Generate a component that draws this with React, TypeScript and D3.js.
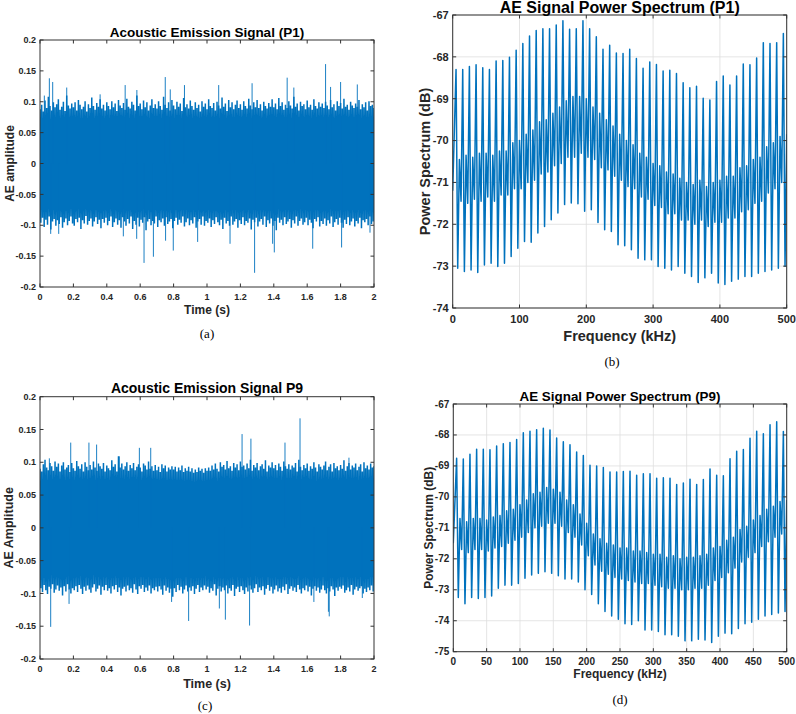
import React, { useRef, useEffect } from 'react';
import * as d3 from 'd3';

const W = 796;
const H = 714;
const BLUE = '#0072bd';
const AXIS = '#333333';
const GRID = '#dedede';
const SANS = '"Liberation Sans", Arial, Helvetica, sans-serif';
const SERIF = '"Liberation Serif", "Times New Roman", serif';

// AE records: upper / lower envelope every 10 ms from 0 to 2 s, in units of 1e-3
const STEP = 0.01;
const upperP1 = [
  88, 95, 84, 102, 90, 108, 93, 86, 99, 91,
  96, 104, 87, 92, 100, 85, 110, 94, 89, 97,
  91, 99, 86, 103, 95, 88, 92, 101, 84, 96,
  90, 107, 93, 87, 98, 92, 104, 89, 95, 86,
  99, 93, 88, 101, 91, 97, 85, 103, 94, 90,
  98, 87, 105, 92, 89, 100, 95, 86, 110, 93,
  97, 88, 102, 91, 99, 86, 94, 104, 90, 96,
  89, 101, 93, 87, 108, 95, 90, 99, 86, 103,
  94, 88, 100, 92, 97, 85, 106, 91, 96, 89,
  102, 93, 87, 99, 90, 95, 84, 101, 92, 97,
  88, 104, 93, 90, 98, 86, 100, 94, 89, 107,
  92, 97, 85, 103, 91, 99, 88, 95, 102, 90,
  96, 87, 101, 93, 89, 105, 94, 88, 99, 91,
  103, 90, 96, 86, 100, 93, 89, 98, 92, 104,
  91, 97, 88, 106, 93, 99, 87, 95, 90, 101,
  94, 89, 108, 92, 97, 86, 100, 93, 96, 88,
  102, 91, 95, 87, 104, 93, 89, 99, 92, 97,
  90, 100, 94, 88, 103, 91, 96, 86, 101, 93,
  98, 89, 105, 92, 95, 87, 100, 94, 90, 97,
  92, 103, 88, 96, 91, 99, 86, 101, 93, 95,
  90,
];
const lowerP1 = [
  -96, -88, -103, -91, -99, -86, -107, -94, -90, -101,
  -92, -98, -87, -104, -95, -89, -100, -93, -86, -97,
  -101, -90, -95, -88, -106, -92, -97, -85, -99, -93,
  -89, -102, -94, -87, -98, -91, -105, -90, -96, -88,
  -100, -93, -86, -103, -95, -89, -99, -92, -104, -87,
  -94, -101, -90, -97, -86, -106, -93, -99, -88, -102,
  -91, -96, -87, -108, -94, -90, -100, -93, -97, -86,
  -103, -92, -95, -89, -101, -87, -98, -94, -90, -105,
  -93, -88, -99, -91, -96, -86, -102, -95, -89, -100,
  -92, -97, -87, -104, -94, -90, -99, -86, -101, -93,
  -96, -89, -103, -92, -98, -87, -95, -100, -91, -106,
  -88, -97, -93, -101, -86, -99, -94, -90, -104, -92,
  -98, -87, -100, -93, -96, -89, -107, -91, -95, -88,
  -102, -94, -90, -99, -86, -103, -92, -97, -89, -101,
  -93, -108, -88, -96, -91, -100, -87, -98, -94, -90,
  -104, -92, -97, -86, -101, -93, -89, -99, -95, -88,
  -100, -91, -96, -105, -90, -94, -87, -102, -93, -98,
  -89, -101, -92, -97, -86, -103, -95, -90, -99, -88,
  -96, -104, -91, -98, -87, -100, -94, -89, -102, -93,
  -97, -88, -105, -92, -95, -90, -100, -86, -98, -94,
  -92,
];
const upperP9 = [
  90, 86, 97, 104, 92, 88, 99, 94, 87, 101,
  93, 98, 86, 95, 100, 89, 92, 96, 85, 99,
  91, 87, 102, 94, 90, 97, 86, 100, 93, 88,
  96, 89, 101, 92, 87, 98, 94, 90, 99, 86,
  95, 91, 88, 103, 93, 97, 86, 109, 92, 98,
  89, 94, 100, 87, 96, 91, 99, 88, 93, 97,
  92, 86, 98, 95, 89, 101, 90, 94, 87, 96,
  88, 93, 85, 97, 91, 95, 86, 92, 89, 94,
  89, 93, 86, 92, 88, 95, 85, 91, 87, 93,
  86, 91, 84, 89, 85, 92, 87, 90, 84, 91,
  87, 92, 87, 95, 89, 98, 90, 86, 100, 93,
  96, 89, 102, 91, 94, 87, 99, 92, 97, 88,
  101, 93, 95, 89, 98, 91, 104, 87, 96, 92,
  99, 88, 94, 97, 90, 103, 86, 95, 92, 100,
  91, 96, 88, 98, 93, 87, 101, 94, 90, 97,
  89, 95, 92, 99, 86, 104, 93, 88, 96, 91,
  98, 87, 94, 90, 100, 92, 86, 97, 93, 89,
  95, 101, 88, 93, 97, 86, 99, 91, 94, 88,
  96, 90, 103, 87, 94, 99, 89, 95, 92, 98,
  88, 93, 97, 86, 100, 91, 95, 89, 98, 92,
  94,
];
const lowerP9 = [
  -92, -98, -87, -95, -101, -90, -93, -86, -99, -94,
  -88, -96, -91, -103, -89, -97, -86, -94, -100, -92,
  -95, -89, -98, -87, -93, -101, -90, -96, -88, -94,
  -99, -91, -86, -97, -93, -88, -102, -90, -95, -87,
  -96, -92, -100, -89, -94, -87, -98, -91, -103, -93,
  -90, -97, -88, -95, -92, -99, -86, -94, -101, -89,
  -93, -87, -98, -91, -96, -88, -100, -92, -95, -90,
  -97, -89, -94, -102, -88, -96, -91, -99, -93, -105,
  -92, -98, -87, -95, -90, -100, -94, -88, -97, -91,
  -96, -89, -101, -93, -87, -98, -91, -95, -88, -94,
  -90, -99, -92, -96, -86, -103, -93, -89, -97, -91,
  -95, -88, -100, -92, -96, -87, -104, -93, -90, -98,
  -89, -95, -101, -91, -97, -88, -94, -99, -92, -86,
  -98, -91, -95, -89, -102, -93, -87, -96, -90, -100,
  -94, -88, -97, -92, -99, -90, -95, -86, -101, -93,
  -89, -96, -91, -98, -87, -94, -100, -92, -95, -88,
  -97, -90, -103, -93, -89, -96, -91, -99, -94, -88,
  -95, -100, -92, -97, -89, -94, -104, -91, -96, -90,
  -93, -88, -99, -95, -91, -97, -87, -102, -94, -90,
  -96, -92, -89, -100, -93, -98, -91, -95, -88, -97,
  -93,
];

// isolated bursts [time s, amplitude]
const spikesP1: [number, number][] = [
  [0.026, 0.11], [0.056, 0.138], [0.076, 0.132], [0.16, 0.123], [0.36, 0.112],
  [0.51, 0.127], [0.58, 0.119], [0.75, 0.14], [0.78, 0.12], [0.865, 0.127],
  [1.07, 0.127], [1.27, 0.13], [1.48, 0.139], [1.52, 0.123], [1.71, 0.161],
  [1.74, 0.124], [1.8, 0.132], [1.9, 0.128],
  [0.064, -0.114], [0.112, -0.114], [0.499, -0.118], [0.579, -0.122], [0.623, -0.161],
  [0.679, -0.151], [0.752, -0.125], [0.798, -0.141], [0.944, -0.127], [1.138, -0.13],
  [1.285, -0.177], [1.393, -0.13], [1.403, -0.144], [1.633, -0.138], [1.806, -0.136],
  [1.976, -0.112],
];
const spikesP9: [number, number][] = [
  [0.056, 0.106], [0.184, 0.13], [0.293, 0.13], [0.339, 0.127], [0.475, 0.109],
  [0.595, 0.122], [0.663, 0.122], [1.21, 0.143], [1.263, 0.136], [1.467, 0.13],
  [1.557, 0.167], [1.85, 0.107],
  [0.064, -0.151], [0.174, -0.116], [0.788, -0.113], [0.89, -0.142], [1.074, -0.123],
  [1.11, -0.14], [1.255, -0.149], [1.64, -0.113], [1.727, -0.128], [1.732, -0.135],
  [1.93, -0.107],
];

// power spectra: one comb tooth every 10 kHz (peak, trough, ridge, dip in dB)
const TOOTH = 10;
const startP1 = -71.2;
const peakP1 = [
  -68.3, -68.3, -68.23, -68.19, -68.26, -68.3, -68.1, -68.09, -68.01, -67.84,
  -67.68, -67.5, -67.37, -67.33, -67.33, -67.24, -67.14, -67.34, -67.33, -67.14,
  -67.33, -67.52, -67.82, -67.72, -67.91, -67.92, -67.82, -68.04, -68.27, -68.12,
  -68.18, -68.34, -68.32, -68.4, -68.62, -68.74, -68.7, -68.99, -69.03, -68.59,
  -68.46, -68.67, -68.46, -68.17, -68.19, -68.03, -67.66, -67.68, -67.66, -67.44,
];
const troughP1 = [
  -73.05, -73.13, -73.09, -73.15, -72.97, -72.93, -73.01, -72.93, -72.77, -72.57,
  -72.41, -72.43, -72.21, -72.05, -71.89, -71.73, -71.53, -71.49, -71.51, -71.69,
  -71.65, -71.96, -72.13, -72.17, -72.49, -72.51, -72.61, -72.81, -72.85, -72.85,
  -73.01, -73.05, -73.09, -73.01, -73.17, -73.25, -73.39, -73.28, -73.17, -73.4,
  -73.44, -73.36, -73.31, -73.25, -73.25, -73.17, -73.13, -73.09, -73.05, -73.0,
];
const ridgeP1 = [
  -70.45, -70.35, -70.4, -70.3, -70.3, -70.35, -70.25, -70.25, -70.05, -70.0,
  -69.85, -69.75, -69.55, -69.5, -69.35, -69.2, -69.05, -68.95, -68.95, -69.0,
  -69.2, -69.35, -69.5, -69.65, -69.85, -70.0, -70.1, -70.3, -70.4, -70.55,
  -70.6, -70.75, -70.8, -70.9, -71.0, -71.05, -70.95, -71.1, -71.0, -70.95,
  -70.85, -70.85, -70.65, -70.6, -70.45, -70.4, -70.15, -70.05, -69.9, -69.85,
];
const dipP1 = [
  -71.45, -71.5, -71.4, -71.45, -71.35, -71.45, -71.3, -71.3, -71.15, -71.15,
  -71.0, -70.95, -70.8, -70.75, -70.6, -70.55, -70.4, -70.4, -70.3, -70.4,
  -70.45, -70.65, -70.7, -70.85, -70.95, -71.1, -71.15, -71.35, -71.4, -71.55,
  -71.6, -71.75, -71.75, -71.9, -71.9, -72.0, -71.9, -72.05, -71.95, -71.95,
  -71.85, -71.85, -71.7, -71.65, -71.5, -71.45, -71.25, -71.15, -71.0, -70.95,
];

const startP9 = -71.5;
const peakP9 = [
  -68.75, -68.78, -68.62, -68.46, -68.46, -68.48, -68.36, -68.28, -68.24, -68.15,
  -67.93, -67.88, -67.83, -67.78, -67.84, -68.1, -68.22, -68.32, -68.55, -68.66,
  -68.98, -69.0, -69.05, -69.2, -69.2, -69.18, -69.17, -69.3, -69.25, -69.25,
  -69.4, -69.38, -69.4, -69.6, -69.55, -69.43, -69.6, -69.44, -69.1, -69.3,
  -69.32, -68.77, -68.53, -68.47, -68.11, -67.88, -67.96, -67.67, -67.57, -67.89,
];
const troughP9 = [
  -73.25, -73.45, -73.25, -73.28, -73.25, -73.2, -72.95, -72.85, -72.85, -72.8,
  -72.63, -72.52, -72.47, -72.42, -72.47, -72.55, -72.65, -72.65, -72.75, -73.0,
  -73.15, -73.45, -73.7, -73.85, -73.95, -74.1, -74.12, -74.0, -74.3, -74.3,
  -74.35, -74.45, -74.45, -74.5, -74.65, -74.65, -74.6, -74.62, -74.7, -74.5,
  -74.4, -74.42, -74.25, -74.1, -74.05, -73.95, -73.85, -73.8, -73.75, -73.7,
];
const ridgeP9 = [
  -70.7, -70.8, -70.7, -70.7, -70.75, -70.65, -70.6, -70.45, -70.4, -70.25,
  -70.1, -69.9, -69.85, -69.7, -69.75, -69.85, -70.1, -70.25, -70.55, -70.85,
  -71.2, -71.35, -71.5, -71.55, -71.65, -71.65, -71.75, -71.75, -71.8, -71.85,
  -71.85, -71.95, -71.9, -72.0, -71.95, -71.95, -71.9, -71.85, -71.65, -71.6,
  -71.4, -71.3, -71.05, -70.95, -70.75, -70.6, -70.4, -70.3, -70.15, -70.1,
];
const dipP9 = [
  -71.7, -71.8, -71.7, -71.7, -71.75, -71.65, -71.6, -71.5, -71.4, -71.3,
  -71.15, -71.0, -70.95, -70.85, -70.85, -70.95, -71.15, -71.3, -71.55, -71.9,
  -72.2, -72.4, -72.5, -72.6, -72.65, -72.7, -72.75, -72.8, -72.8, -72.85,
  -72.9, -72.95, -72.95, -73.0, -73.0, -72.95, -72.95, -72.85, -72.7, -72.6,
  -72.45, -72.3, -72.1, -71.95, -71.8, -71.6, -71.45, -71.3, -71.2, -71.1,
];

// axis ticks
const timeTicks = [0, 0.2, 0.4, 0.6, 0.8, 1, 1.2, 1.4, 1.6, 1.8, 2];
const ampTicks = [-0.2, -0.15, -0.1, -0.05, 0, 0.05, 0.1, 0.15, 0.2];
const freqTicksB = [0, 100, 200, 300, 400, 500];
const freqTicksD = [0, 50, 100, 150, 200, 250, 300, 350, 400, 450, 500];
const dbTicksB = [-74, -73, -72, -71, -70, -69, -68, -67];
const dbTicksD = [-75, -74, -73, -72, -71, -70, -69, -68, -67];

type Frame = {
  left: number; right: number; top: number; bottom: number;
  title: string; titleSize: number; titleY: number;
  xLabel: string; yLabel: string; labelSize: number; xLabelY: number; yLabelX: number;
  tickSize: number; xTickY: number;
  caption: string; captionX: number; captionY: number;
};

const frameA: Frame = {
  left: 40, right: 374, top: 40, bottom: 287,
  title: 'Acoustic Emission Signal (P1)', titleSize: 13.5, titleY: 36.5,
  xLabel: 'Time (s)', yLabel: 'AE amplitude', labelSize: 12, xLabelY: 314, yLabelX: 13.5,
  tickSize: 9, xTickY: 299.5,
  caption: '(a)', captionX: 207, captionY: 338,
};
const frameB: Frame = {
  left: 452.7, right: 786.7, top: 15, bottom: 308,
  title: 'AE Signal Power Spectrum (P1)', titleSize: 16, titleY: 13,
  xLabel: 'Frequency (kHz)', yLabel: 'Power Spectrum (dB)', labelSize: 14.5, xLabelY: 341, yLabelX: 430,
  tickSize: 11, xTickY: 323,
  caption: '(b)', captionX: 612, captionY: 366,
};
const frameC: Frame = {
  left: 40, right: 374, top: 396.7, bottom: 659,
  title: 'Acoustic Emission Signal P9', titleSize: 14, titleY: 392.5,
  xLabel: 'Time (s)', yLabel: 'AE Amplitude', labelSize: 12.5, xLabelY: 687.5, yLabelX: 13,
  tickSize: 9, xTickY: 671.5,
  caption: '(c)', captionX: 205, captionY: 710,
};
const frameD: Frame = {
  left: 453.3, right: 786.7, top: 404, bottom: 651.7,
  title: 'AE Signal Power Spectrum (P9)', titleSize: 13.4, titleY: 400.5,
  xLabel: 'Frequency (kHz)', yLabel: 'Power Spectrum (dB)', labelSize: 12, xLabelY: 678, yLabelX: 433,
  tickSize: 10, xTickY: 665,
  caption: '(d)', captionX: 620, captionY: 704,
};

type Sel = d3.Selection<SVGSVGElement, unknown, null, undefined>;
type Scale = d3.ScaleLinear<number, number>;

function addClip(svg: Sel, f: Frame, id: string) {
  svg.append('clipPath').attr('id', id).append('rect')
    .attr('x', f.left).attr('y', f.top)
    .attr('width', f.right - f.left).attr('height', f.bottom - f.top);
}

function drawGrid(svg: Sel, f: Frame, x: Scale, y: Scale, xTicks: number[], yTicks: number[]) {
  const g = svg.append('g').attr('stroke', GRID).attr('stroke-width', 0.8);
  xTicks.forEach(t => {
    g.append('line').attr('x1', x(t)).attr('x2', x(t)).attr('y1', f.top).attr('y2', f.bottom);
  });
  yTicks.forEach(t => {
    g.append('line').attr('x1', f.left).attr('x2', f.right).attr('y1', y(t)).attr('y2', y(t));
  });
}

function drawAxes(svg: Sel, f: Frame, x: Scale, y: Scale, xTicks: number[], yTicks: number[]) {
  const TL = 3.5;
  const g = svg.append('g');
  g.append('rect')
    .attr('x', f.left).attr('y', f.top)
    .attr('width', f.right - f.left).attr('height', f.bottom - f.top)
    .attr('fill', 'none').attr('stroke', AXIS).attr('stroke-width', 1);

  xTicks.forEach(t => {
    const px = x(t);
    g.append('line').attr('x1', px).attr('x2', px).attr('y1', f.bottom).attr('y2', f.bottom - TL).attr('stroke', AXIS);
    g.append('line').attr('x1', px).attr('x2', px).attr('y1', f.top).attr('y2', f.top + TL).attr('stroke', AXIS);
    g.append('text').attr('x', px).attr('y', f.xTickY)
      .attr('text-anchor', 'middle').attr('font-family', SANS).attr('font-weight', 'bold')
      .attr('font-size', f.tickSize).attr('fill', '#262626').text(String(t));
  });
  yTicks.forEach(t => {
    const py = y(t);
    g.append('line').attr('x1', f.left).attr('x2', f.left + TL).attr('y1', py).attr('y2', py).attr('stroke', AXIS);
    g.append('line').attr('x1', f.right).attr('x2', f.right - TL).attr('y1', py).attr('y2', py).attr('stroke', AXIS);
    g.append('text').attr('x', f.left - 4).attr('y', py).attr('dy', '0.35em')
      .attr('text-anchor', 'end').attr('font-family', SANS).attr('font-weight', 'bold')
      .attr('font-size', f.tickSize).attr('fill', '#262626').text(String(t));
  });

  const cx = (f.left + f.right) / 2;
  const cy = (f.top + f.bottom) / 2;
  g.append('text').attr('x', cx).attr('y', f.titleY)
    .attr('text-anchor', 'middle').attr('font-family', SANS).attr('font-weight', 'bold')
    .attr('font-size', f.titleSize).attr('fill', '#000').text(f.title);
  g.append('text').attr('x', cx).attr('y', f.xLabelY)
    .attr('text-anchor', 'middle').attr('font-family', SANS).attr('font-weight', 'bold')
    .attr('font-size', f.labelSize).attr('fill', '#262626').text(f.xLabel);
  g.append('text').attr('transform', `translate(${f.yLabelX},${cy}) rotate(-90)`)
    .attr('text-anchor', 'middle').attr('font-family', SANS).attr('font-weight', 'bold')
    .attr('font-size', f.labelSize).attr('fill', '#262626').text(f.yLabel);
  g.append('text').attr('x', f.captionX).attr('y', f.captionY)
    .attr('text-anchor', 'middle').attr('font-family', SERIF)
    .attr('font-size', 13).attr('fill', '#000').text(f.caption);
}

function drawSignal(svg: Sel, f: Frame, upper: number[], lower: number[], spikes: [number, number][], id: string) {
  const x = d3.scaleLinear().domain([0, 2]).range([f.left, f.right]);
  const y = d3.scaleLinear().domain([-0.2, 0.2]).range([f.bottom, f.top]);
  addClip(svg, f, id);

  // alternate between the upper and lower envelope so the trace fills the band
  const pts: [number, number][] = [];
  upper.forEach((u, i) => {
    pts.push([i * STEP, u / 1000]);
    pts.push([i * STEP + STEP / 2, lower[i] / 1000]);
  });
  const line = d3.line<[number, number]>().x(d => x(d[0])).y(d => y(d[1]));
  const g = svg.append('g').attr('clip-path', `url(#${id})`);
  g.append('path').attr('d', line(pts) || '')
    .attr('fill', 'none').attr('stroke', BLUE).attr('stroke-width', 1.5)
    .attr('stroke-linejoin', 'miter');
  g.selectAll('line.spike').data(spikes).join('line')
    .attr('class', 'spike')
    .attr('x1', d => x(d[0])).attr('x2', d => x(d[0]))
    .attr('y1', y(0)).attr('y2', d => y(d[1]))
    .attr('stroke', BLUE).attr('stroke-width', 0.9);

  drawAxes(svg, f, x, y, timeTicks, ampTicks);
}

function drawSpectrum(
  svg: Sel, f: Frame, dbMin: number, xTicks: number[], yTicks: number[],
  start: number, peak: number[], trough: number[], ridge: number[], dip: number[], id: string,
) {
  const x = d3.scaleLinear().domain([0, 500]).range([f.left, f.right]);
  const y = d3.scaleLinear().domain([dbMin, -67]).range([f.bottom, f.top]);
  addClip(svg, f, id);
  drawGrid(svg, f, x, y, xTicks, yTicks);

  const pts: [number, number][] = [[0, start]];
  peak.forEach((p, k) => {
    const f0 = k * TOOTH;
    pts.push([f0 + 5, p], [f0 + 7.5, trough[k]], [f0 + 10, ridge[k]], [f0 + 12.5, dip[k]]);
  });
  const line = d3.line<[number, number]>().x(d => x(d[0])).y(d => y(d[1]));
  svg.append('g').attr('clip-path', `url(#${id})`)
    .append('path').attr('d', line(pts.filter(d => d[0] <= 500)) || '')
    .attr('fill', 'none').attr('stroke', BLUE).attr('stroke-width', 1.5)
    .attr('stroke-linejoin', 'round');

  drawAxes(svg, f, x, y, xTicks, yTicks);
}

function AcousticSheet() {
  const svgRef = useRef<SVGSVGElement>(null);

  useEffect(() => {
    if (!svgRef.current) return;
    const svg = d3.select(svgRef.current);
    svg.selectAll('*').remove();
    svg.append('rect').attr('width', W).attr('height', H).attr('fill', '#fff');

    drawSignal(svg, frameA, upperP1, lowerP1, spikesP1, 'clip-a');
    drawSpectrum(svg, frameB, -74, freqTicksB, dbTicksB, startP1, peakP1, troughP1, ridgeP1, dipP1, 'clip-b');
    drawSignal(svg, frameC, upperP9, lowerP9, spikesP9, 'clip-c');
    drawSpectrum(svg, frameD, -75, freqTicksD, dbTicksD, startP9, peakP9, troughP9, ridgeP9, dipP9, 'clip-d');
  }, []);

  return <svg ref={svgRef} width={W} height={H} style={{ position: 'absolute', left: 0, top: 0 }} />;
}

export default function App() {
  return <AcousticSheet />;
}
